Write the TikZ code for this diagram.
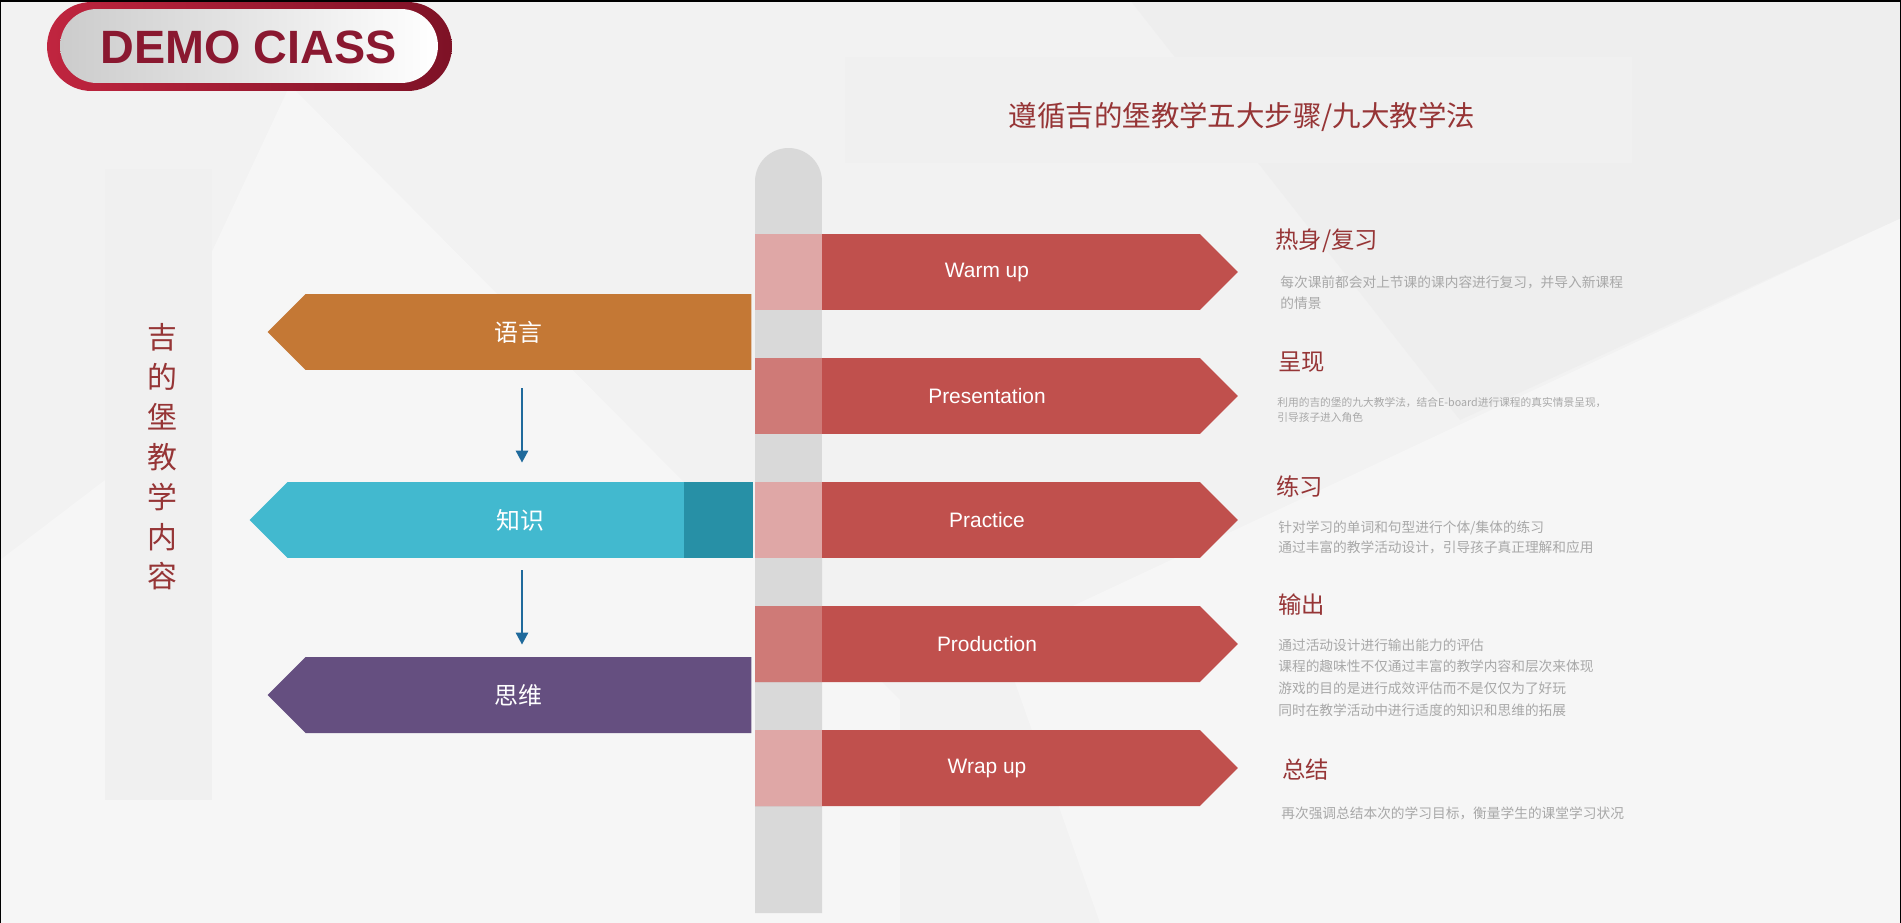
\documentclass[tikz,border=0pt]{standalone}
\usepackage{fontspec}
\setmainfont{Liberation Sans}
\newfontfamily\cjk{Noto Sans CJK SC}
\usepackage{tikz}
\usetikzlibrary{shapes, arrows, arrows.meta}
\definecolor{bggray}{HTML}{F2F2F2}
\definecolor{bglight}{HTML}{F6F6F6}
\definecolor{bgdark}{HTML}{EEEEEE}
\definecolor{boxgray}{HTML}{F0F0F0}
\definecolor{postgray}{HTML}{D9D9D9}
\definecolor{signred}{HTML}{C0504D}
\definecolor{pinklight}{HTML}{DFA7A6}
\definecolor{pinkmid}{HTML}{CF7A77}
\definecolor{langorange}{HTML}{C47835}
\definecolor{knowcyan}{HTML}{42B9CF}
\definecolor{knowteal}{HTML}{2790A6}
\definecolor{thinkpurple}{HTML}{654F80}
\definecolor{arrowblue}{HTML}{1F6A9C}
\definecolor{titlered}{HTML}{963536}
\definecolor{descgray}{HTML}{A8A8A8}
\definecolor{pillred}{HTML}{C0253F}
\definecolor{pilldark}{HTML}{7E1226}
\definecolor{pilltext}{HTML}{8A1830}
\tikzset{
	rightsign/.style={signal, signal to=east, signal pointer angle=90, fill=signred, inner sep=0pt, minimum width=9.66cm, minimum height=1.52cm, text=white, font=\fontsize{11.9pt}{14pt}\selectfont},
	leftsign/.style={signal, signal to=west, signal pointer angle=90, inner sep=0pt, minimum height=1.52cm, text=white, font=\cjk\fontsize{13.6pt}{16pt}\selectfont},
	postseg/.style={rectangle, inner sep=0pt, minimum width=1.34cm, minimum height=1.52cm},
	heading/.style={anchor=west, inner sep=0pt, text=titlered, font=\cjk\fontsize{13.3pt}{16pt}\selectfont},
	desc/.style={anchor=west, inner sep=0pt, align=left, text=descgray, font=\cjk\fontsize{7.8pt}{12.1pt}\selectfont},
	flow/.style={arrowblue, line width=1.5pt, -{Triangle[length=0.24cm, width=0.24cm]}}
}
\begin{document}
\begin{tikzpicture}[x=0.02cm, y=-0.02cm]
		\useasboundingbox (0, 0) rectangle (1901, 923);
		\fill[bggray] (0, 0) rectangle (1901, 923);
		\fill[bglight] (290, 85)--(900, 700)--(900, 923)--(0, 923)--(0, 560)--(105, 480)--cycle;
		\fill[bglight] (1000, 640)--(1901, 218)--(1901, 923)--(1100, 923)--cycle;
		\fill[bgdark] (1130, 0)--(1901, 0)--(1901, 218)--(1460, 420)--cycle;
		\node(TBOX) at (1238.5, 110)[rectangle, fill=boxgray, minimum width=15.74cm, minimum height=2.12cm]{};
		\node(VBOX) at (158.5, 484.5)[rectangle, fill=boxgray, minimum width=2.14cm, minimum height=12.62cm]{};
		\node(PILL) at (249.5, 46.5)[rectangle, rounded corners=0.89cm, minimum width=8.1cm, minimum height=1.78cm, left color=pillred, right color=pilldark]{};
		\node(PILLIN) at (249, 46)[rectangle, rounded corners=0.74cm, minimum width=7.56cm, minimum height=1.48cm, left color=gray!40, right color=white]{};
		\node(DEMO) at (248.5, 47.5)[text=pilltext, font=\bfseries\fontsize{26.6pt}{30pt}\selectfont]{DEMO CIASS};
		\node(TITLE) at (1242, 117)[text=titlered, font=\cjk\fontsize{16.2pt}{19pt}\selectfont]{遵循吉的堡教学五大步骤/九大教学法};
		\node(NAME) at (162, 457)[align=center, text=titlered, font=\cjk\fontsize{17pt}{22.7pt}\selectfont]{吉\\的\\堡\\教\\学\\内\\容};
		\fill[postgray] (755, 913)--(755, 181.5) arc[start angle=180, end angle=0, radius=0.67cm]--(822, 913)--cycle;
		\node(WU) at (977.5, 272)[rightsign]{\hspace*{0.38cm}Warm up};
		\node(PR) at (977.5, 396)[rightsign]{\hspace*{0.38cm}Presentation};
		\node(PC) at (977.5, 520)[rightsign]{\hspace*{0.38cm}Practice};
		\node(PD) at (977.5, 644)[rightsign]{\hspace*{0.38cm}Production};
		\node(WR) at (977.5, 768)[rightsign]{\hspace*{0.38cm}Wrap up};
		\node(WUS) at (788.5, 272)[postseg, fill=pinklight]{};
		\node(PRS) at (788.5, 396)[postseg, fill=pinkmid]{};
		\node(PCS) at (788.5, 520)[postseg, fill=pinklight]{};
		\node(PDS) at (788.5, 644)[postseg, fill=pinkmid]{};
		\node(WRS) at (788.5, 768)[postseg, fill=pinklight]{};
		\node(YY) at (528.5, 332)[leftsign, fill=langorange, minimum width=9.68cm]{语言\hspace*{0.4cm}};
		\node(ZS) at (520, 520)[leftsign, fill=knowcyan, minimum width=10.06cm]{知识};
		\node(ZST) at (718.5, 520)[postseg, fill=knowteal, minimum width=1.38cm]{};
		\node(SW) at (528.5, 695)[leftsign, fill=thinkpurple, minimum width=9.68cm]{思维\hspace*{0.4cm}};
		\draw[flow, shorten <=0.36cm, shorten >=0.38cm] ([xshift=-0.13cm]YY.south)--([xshift=-0.13cm]YY.south |- ZS.north);
		\draw[flow, shorten <=0.24cm, shorten >=0.24cm] ([xshift=-0.13cm]YY.south |- ZS.south)--([xshift=-0.13cm]YY.south |- SW.north);
		\node(WUH) at (1275, 241)[heading]{热身/复习};
		\node(WUD) at (1280, 292.5)[desc]{每次课前都会对上节课的课内容进行复习，并导入新课程\\的情景};
		\node(PRH) at (1278, 362)[heading]{呈现};
		\node(PRD) at (1277, 409.5)[desc, font=\cjk\fontsize{6.1pt}{8.5pt}\selectfont]{利用的吉的堡的九大教学法，结合E-board进行课程的真实情景呈现，\\引导孩子进入角色};
		\node(PCH) at (1276, 487)[heading]{练习};
		\node(PCD) at (1278, 537)[desc, font=\cjk\fontsize{7.8pt}{11.4pt}\selectfont]{针对学习的单词和句型进行个体/集体的练习\\通过丰富的教学活动设计，引导孩子真正理解和应用};
		\node(PDH) at (1278, 605)[heading]{输出};
		\node(PDD) at (1278, 677.5)[desc, font=\cjk\fontsize{7.8pt}{12.3pt}\selectfont]{通过活动设计进行输出能力的评估\\课程的趣味性不仅通过丰富的教学内容和层次来体现\\游戏的目的是进行成效评估而不是仅仅为了好玩\\同时在教学活动中进行适度的知识和思维的拓展};
		\node(WRH) at (1282, 770)[heading]{总结};
		\node(WRD) at (1281, 813)[desc]{再次强调总结本次的学习目标，衡量学生的课堂学习状况};
		\draw[black, line width=0.06cm] (0, 923)--(0, 0)--(1901, 0)--(1901, 923);
		\end{tikzpicture}
\end{document}
